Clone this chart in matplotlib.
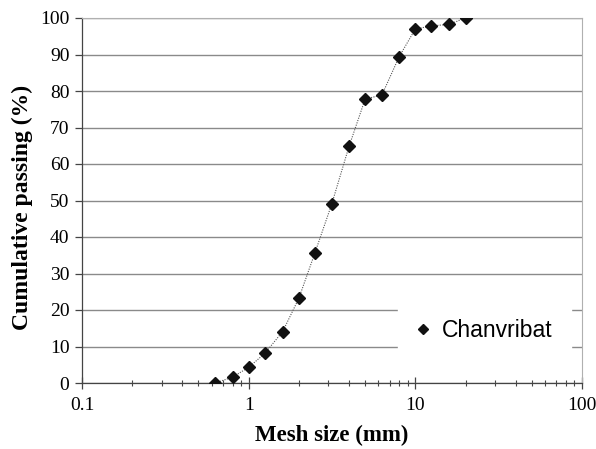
import numpy as np
import matplotlib
matplotlib.use("Agg")
import matplotlib.pyplot as plt
from matplotlib.ticker import LogLocator, FixedLocator, NullFormatter

# Sieve data
mesh_mm = [0.63, 0.8, 1.0, 1.25, 1.6, 2.0, 2.5, 3.15, 4.0, 5.0, 6.3, 8.0, 10.0, 12.5, 16.0, 20.0]
passing = [0.0, 1.6, 4.3, 8.1, 14.1, 23.2, 35.7, 49.0, 64.8, 77.8, 78.9, 89.4, 97.0, 97.8, 98.3, 100.0]

x_ticks = [0.1, 1, 10, 100]
x_tick_labels = ["0.1", "1", "10", "100"]
y_ticks = list(range(0, 101, 10))

serif = "Liberation Serif"
sans = "Liberation Sans"

fig = plt.figure(figsize=(5.96, 4.49), dpi=100)
ax = fig.add_axes([82 / 596, 1 - 383 / 449, 500 / 596, 365 / 449])

ax.plot(mesh_mm, passing, linestyle=(0, (1, 1.2)), color="#555555", linewidth=0.8,
        marker="D", markersize=6.2, markerfacecolor="#111111", markeredgecolor="#111111",
        label="Chanvribat", zorder=3)

ax.set_xscale("log")
ax.set_xlim(0.1, 100)
ax.set_ylim(0, 100)

ax.xaxis.set_major_locator(FixedLocator(x_ticks))
ax.set_xticklabels(x_tick_labels)
ax.xaxis.set_minor_locator(LogLocator(base=10, subs=np.arange(2, 10)))
ax.xaxis.set_minor_formatter(NullFormatter())
ax.set_yticks(y_ticks)

ax.yaxis.grid(True, color="#8a8a8a", linewidth=1.0)
ax.set_axisbelow(True)

for side in ["top", "right"]:
    ax.spines[side].set_color("#b0b0b0")
    ax.spines[side].set_linewidth(0.8)
for side in ["left", "bottom"]:
    ax.spines[side].set_color("#444444")
    ax.spines[side].set_linewidth(0.9)

ax.tick_params(axis="x", which="major", direction="inout", length=8, width=0.9, color="#444444", pad=6)
ax.tick_params(axis="x", which="minor", direction="inout", length=4, width=0.8, color="#444444")
ax.tick_params(axis="y", which="major", direction="out", length=5, width=0.9, color="#444444", pad=4)

for lab in ax.get_xticklabels() + ax.get_yticklabels():
    lab.set_fontfamily(serif)
    lab.set_fontsize(14)

ax.set_xlabel("Mesh size (mm)", fontfamily=serif, fontsize=16.5, fontweight="bold", labelpad=8)
ax.set_ylabel("Cumulative passing (%)", fontfamily=serif, fontsize=17, fontweight="bold")
ax.yaxis.set_label_coords(-0.098, 0.48)

leg = ax.legend(loc="lower right", bbox_to_anchor=(1.0, 0.03), frameon=True, fancybox=False,
                edgecolor="white", framealpha=1.0, prop={"family": sans, "size": 16.5},
                handlelength=0.6, handletextpad=0.5, borderpad=0.8, markerscale=0.8)
for h in leg.legend_handles:
    h.set_linestyle("none")

fig.savefig("out.png", dpi=100, facecolor="white")
